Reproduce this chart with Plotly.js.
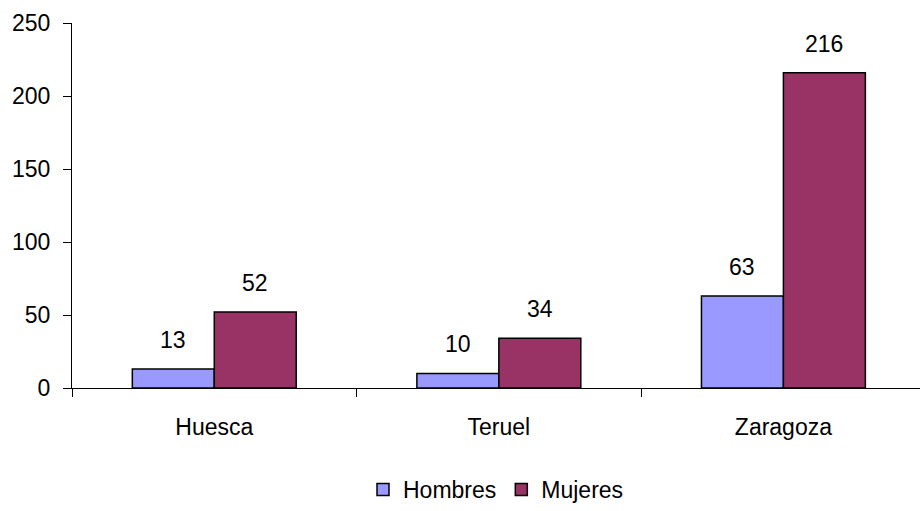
<!DOCTYPE html>
<html>
<head>
<meta charset="utf-8">
<script src="https://cdn.plot.ly/plotly-3.0.1.min.js"></script>
<style>html,body{margin:0;padding:0;background:#fff;}#chart{width:920px;height:511px;}</style>
</head>
<body>
<div id="chart"></div>
<script>
const categories = ["Huesca", "Teruel", "Zaragoza"];
const hombres = [13, 10, 63];
const mujeres = [52, 34, 216];
const seriesNames = ["Hombres", "Mujeres"];
const yTicks = [0, 50, 100, 150, 200, 250];

const FONT = "Liberation Sans, Arial, sans-serif";
const fs = 23;

const traces = [
  {type: "bar", name: seriesNames[0], x: categories, y: hombres,
   marker: {color: "#9999FF", line: {color: "#000", width: 1.5}}, hoverinfo: "none"},
  {type: "bar", name: seriesNames[1], x: categories, y: mujeres,
   marker: {color: "#993366", line: {color: "#000", width: 1.5}}, hoverinfo: "none"}
];

const barW = 0.288;
const annotations = [];
[hombres, mujeres].forEach((vals, si) => {
  vals.forEach((v, i) => {
    annotations.push({
      x: i + (si === 0 ? -barW / 2 : barW / 2), y: v, xref: "x", yref: "y",
      text: String(v), showarrow: false, yanchor: "bottom", yshift: 14,
      font: {family: FONT, size: fs, color: "#000"}
    });
  });
});

const layout = {
  width: 920, height: 511,
  margin: {l: 72, r: 0, t: 23, b: 117},
  paper_bgcolor: "#fff", plot_bgcolor: "#fff",
  font: {family: FONT, size: fs, color: "#000"},
  barmode: "group", bargap: 0.424, bargroupgap: 0,
  showlegend: true,
  legend: {orientation: "h", x: 0.5, xanchor: "center", y: -0.278, yanchor: "middle",
           font: {family: FONT, size: fs, color: "#000"}, itemwidth: 30, tracegroupgap: 0},
  xaxis: {type: "category", range: [-0.5, 2.48], showgrid: false, zeroline: false,
          showline: true, linecolor: "#000", linewidth: 1,
          ticks: "outside", tickson: "boundaries", ticklen: 8, tickcolor: "#000",
          ticklabelstandoff: 18,
          tickfont: {family: FONT, size: fs, color: "#000"}, fixedrange: true},
  yaxis: {range: [0, 250], tickvals: yTicks, showgrid: false, zeroline: false,
          showline: true, linecolor: "#000", linewidth: 1,
          ticks: "outside", ticklen: 8, tickcolor: "#000", ticklabelstandoff: 8,
          tickfont: {family: FONT, size: fs, color: "#000"}, fixedrange: true},
  annotations: annotations
};

Plotly.newPlot("chart", traces, layout, {displayModeBar: false, staticPlot: true});
</script>
</body>
</html>
